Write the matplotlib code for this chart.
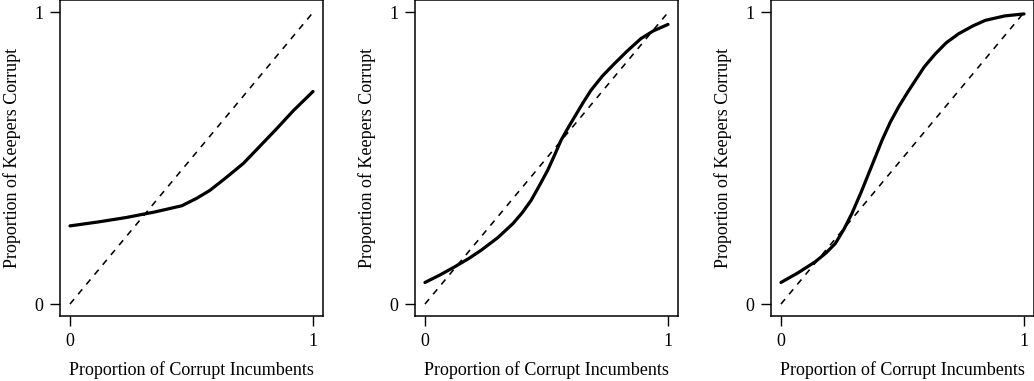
import matplotlib
matplotlib.use("Agg")
import matplotlib.pyplot as plt

plt.rcParams['font.family'] = ['Liberation Serif', 'DejaVu Serif']

# Panel 1
p1_x = [0.0, 0.12, 0.233, 0.35, 0.46, 0.52, 0.576, 0.64, 0.713, 0.78, 0.85, 0.92, 1.0]
p1_y = [0.268, 0.282, 0.297, 0.316, 0.337, 0.362, 0.390, 0.432, 0.482, 0.540, 0.601, 0.664, 0.729]
# Panel 2
p2_x = [0.0, 0.06, 0.123, 0.18, 0.232, 0.30, 0.362, 0.40, 0.437, 0.47, 0.505, 0.535, 0.560, 0.59,
        0.615, 0.65, 0.683, 0.73, 0.779, 0.83, 0.888, 0.94, 1.0]
p2_y = [0.074, 0.099, 0.128, 0.156, 0.185, 0.228, 0.276, 0.313, 0.356, 0.405, 0.459, 0.514, 0.562, 0.606,
        0.641, 0.690, 0.733, 0.782, 0.824, 0.866, 0.910, 0.937, 0.959]
# Panel 3
p3_x = [0.0, 0.07, 0.141, 0.185, 0.224, 0.26, 0.292, 0.33, 0.361, 0.39, 0.416, 0.45, 0.484, 0.52,
        0.553, 0.59, 0.635, 0.68, 0.731, 0.79, 0.841, 0.92, 1.0]
p3_y = [0.074, 0.107, 0.145, 0.175, 0.208, 0.258, 0.311, 0.384, 0.448, 0.508, 0.562, 0.624, 0.676, 0.725,
        0.767, 0.814, 0.858, 0.896, 0.927, 0.954, 0.973, 0.988, 0.995]

diag = [0.0, 1.0]
ticks = [0, 1]
tick_labels = ["0", "1"]
xlabel = "Proportion of Corrupt Incumbents"
ylabel = "Proportion of Keepers Corrupt"

W, H = 1034, 381
fig = plt.figure(figsize=(W / 100, H / 100), dpi=100)

lefts_px = [60, 415, 771]
width_px = 262.5
bottom_px = 316
top_px = 0.5

curves = [(p1_x, p1_y), (p2_x, p2_y), (p3_x, p3_y)]
for lp, (cx, cy) in zip(lefts_px, curves):
    ax = fig.add_axes([lp / W, (H - bottom_px) / H, width_px / W, (bottom_px - top_px) / H])
    ax.plot(diag, diag, linestyle=(0, (4.0, 4.0)), color='black', linewidth=1.15)
    ax.plot(cx, cy, color='black', linewidth=2.3, solid_capstyle='round', solid_joinstyle='round')
    ax.set_xlim(-0.041, 1.039)
    ax.set_ylim(-0.041, 1.041)
    ax.set_xticks(ticks)
    ax.set_yticks(ticks)
    ax.set_xticklabels(tick_labels)
    ax.set_yticklabels(tick_labels)
    ax.tick_params(direction='out', length=7.2, width=1.0, labelsize=13, pad=5, colors='black')
    for s in ax.spines.values():
        s.set_linewidth(1.1)
    ax.set_xlabel(xlabel, fontsize=13, labelpad=8)
    ax.set_ylabel(ylabel, fontsize=13, labelpad=9)

fig.savefig("out.png", dpi=100)
